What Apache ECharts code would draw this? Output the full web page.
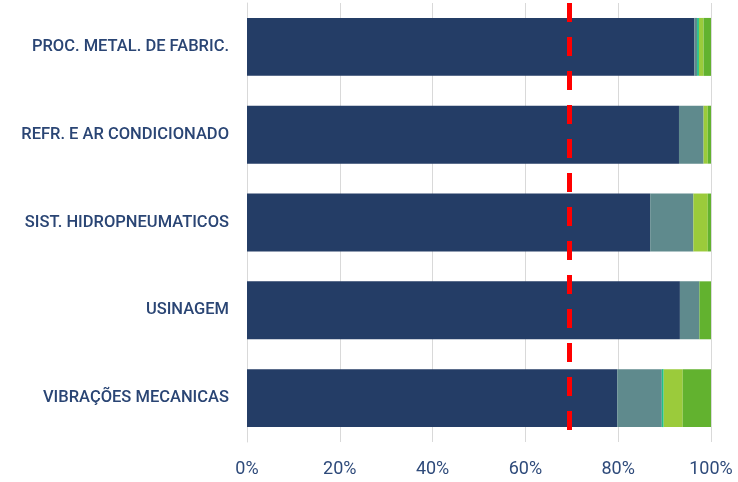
<!DOCTYPE html>
<html>
<head>
<meta charset="utf-8">
<script src="https://cdn.jsdelivr.net/npm/echarts@6/dist/echarts.min.js"></script>
<style>
  html, body { margin: 0; padding: 0; background: #ffffff; }
  #chart { width: 738px; height: 482px; }
</style>
</head>
<body>
<div id="chart"></div>
<script>
// Sectors, listed top to bottom
const categories = [
  'PROC. METAL. DE FABRIC.',
  'REFR. E AR CONDICIONADO',
  'SIST. HIDROPNEUMATICOS',
  'USINAGEM',
  'VIBRAÇÕES MECANICAS'
];

// Share (%) of each segment per sector
const seg1 = [96.4, 93.1, 86.9, 93.3, 79.8];
const seg2 = [0.6, 5.3, 9.3, 4.2, 9.6];
const seg3 = [0.4, 0, 0, 0, 0.4];
const seg4 = [1.0, 0.9, 3.1, 0, 4.1];
const seg5 = [1.6, 0.7, 0.7, 2.5, 6.1];

const segColors = ['#243d66', '#5f8a8d', '#20c08a', '#9bcb3b', '#62b22f'];
const targetLine = 69.5;
const xTicks = [0, 20, 40, 60, 80, 100];

const segments = [seg1, seg2, seg3, seg4, seg5];

const series = segments.map((vals, i) => ({
  type: 'bar',
  stack: 'total',
  data: vals,
  barWidth: '66%',
  itemStyle: { color: segColors[i] },
  silent: true
}));

series[0].markLine = {
  silent: true,
  symbol: 'none',
  label: { show: false },
  lineStyle: { color: '#ff0000', width: 5, type: [19, 15] },
  data: [{ xAxis: targetLine }]
};

const chart = echarts.init(document.getElementById('chart'));
chart.setOption({
  animation: false,
  grid: { left: 247, right: 27, top: 3, bottom: 40, containLabel: false },
  xAxis: {
    type: 'value',
    min: xTicks[0],
    max: xTicks[xTicks.length - 1],
    interval: 20,
    axisLine: { show: false },
    axisTick: { show: false },
    splitLine: { show: true, lineStyle: { color: '#d9d9d9', width: 1 } },
    axisLabel: {
      formatter: v => v + '%',
      color: '#2e4a7a',
      fontFamily: 'Roboto',
      fontSize: 18,
      margin: 18
    }
  },
  yAxis: {
    type: 'category',
    inverse: true,
    data: categories,
    axisLine: { show: true, lineStyle: { color: '#d9d9d9', width: 1 } },
    axisTick: { show: false },
    axisLabel: {
      color: '#2a4574',
      fontFamily: 'Roboto',
      fontWeight: 500,
      fontSize: 16.5,
      margin: 18
    }
  },
  series: series
});
</script>
</body>
</html>
